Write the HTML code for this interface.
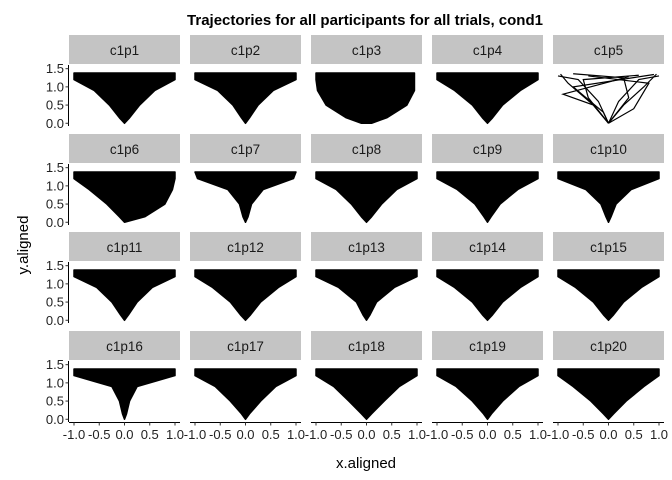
<!DOCTYPE html>
<html><head><meta charset="utf-8"><style>
html,body{margin:0;padding:0;background:#fff}
svg{display:block;font-family:"Liberation Sans",sans-serif}
</style></head><body>
<svg id="chart" width="672" height="480" viewBox="0 0 672 480">
<text x="365" y="25" text-anchor="middle" font-weight="bold" font-size="15">Trajectories for all participants for all trials, cond1</text>
<text transform="translate(28,245) rotate(-90)" text-anchor="middle" font-size="15">y.aligned</text>
<text x="366" y="468" text-anchor="middle" font-size="15">x.aligned</text>
<g id="panels"></g>
</svg>
<script>
const participants = ["c1p1","c1p2","c1p3","c1p4","c1p5","c1p6","c1p7","c1p8","c1p9","c1p10","c1p11","c1p12","c1p13","c1p14","c1p15","c1p16","c1p17","c1p18","c1p19","c1p20"];
const envelopeY = [1.38, 1.2, 0.9, 0.5, 0.15, 0];
const leftEdge = [
 [-1,-1,-0.6,-0.3,-0.1,0],[-1,-1,-0.55,-0.25,-0.08,0],[-1,-1,-0.97,-0.8,-0.4,-0.1],[-1,-1,-0.65,-0.3,-0.1,0],null,
 [-1,-1,-0.7,-0.35,-0.1,0],[-1,-0.95,-0.35,-0.12,-0.05,0],[-1,-1,-0.6,-0.3,-0.1,0],[-1,-1,-0.6,-0.25,-0.07,0],[-1,-1,-0.45,-0.15,-0.05,0],
 [-1,-1,-0.55,-0.25,-0.08,0],[-1,-1,-0.65,-0.3,-0.1,0],[-1,-1,-0.55,-0.2,-0.07,0],[-1,-1,-0.65,-0.3,-0.1,0],[-1,-1,-0.65,-0.3,-0.1,0],
 [-1,-1,-0.25,-0.1,-0.04,0],[-1,-1,-0.6,-0.3,-0.08,0],[-1,-1,-0.65,-0.35,-0.1,0],[-1,-1,-0.62,-0.3,-0.08,0],[-1,-1,-0.7,-0.35,-0.1,0]];
const rightEdge = [
 [1,1,0.6,0.3,0.1,0],[1,1,0.55,0.25,0.08,0],[0.95,0.95,0.95,0.8,0.4,0.1],[1,1,0.65,0.3,0.1,0],null,
 [1,1,0.95,0.8,0.4,0],[1,0.95,0.35,0.12,0.05,0],[1,1,0.6,0.3,0.1,0],[1,1,0.6,0.25,0.07,0],[1,1,0.45,0.15,0.05,0],
 [1,1,0.55,0.25,0.08,0],[1,1,0.65,0.3,0.1,0],[1,1,0.55,0.2,0.07,0],[1,1,0.65,0.3,0.1,0],[1,1,0.65,0.3,0.1,0],
 [1,1,0.25,0.1,0.04,0],[1,1,0.6,0.3,0.08,0],[1,1,0.65,0.35,0.1,0],[1,1,0.62,0.3,0.08,0],[1,1,0.7,0.35,0.1,0]];
const sparseTrajX = [[0,-0.3,-0.8,-0.95],[0,-0.2,-0.6,-1.0],[0,0.3,0.7,0.95],[0,0.2,0.6,1.0],[0,-0.4,-0.5,0.6],[0,0.4,0.3,-0.7],[0,-0.1,-0.7,0.9],[0,0.5,0.8,-0.4],[0,-0.3,-0.9,0.4]];
const sparseTrajY = [[0,0.5,1.1,1.35],[0,0.6,1.2,1.3],[0,0.5,1.0,1.35],[0,0.6,1.2,1.3],[0,0.7,1.2,1.32],[0,0.7,1.25,1.36],[0,0.3,1.0,1.34],[0,0.4,1.1,1.3],[0,0.5,0.8,1.28]];
const yTicks = [0, 0.5, 1.0, 1.5];
const yTickLabels = ["0.0","0.5","1.0","1.5"];
const xTicks = [-1, -0.5, 0, 0.5, 1];
const xTickLabels = ["-1.0","-0.5","0.0","0.5","1.0"];

const NS = "http://www.w3.org/2000/svg";
const g = document.getElementById("panels");
const colX = [69,190,311,432,553], pw = 111, ph = 61;
const rowStrip = [35,134,232,331];
function mk(t, attrs, parent){const e=document.createElementNS(NS,t);for(const k in attrs)e.setAttribute(k,attrs[k]);(parent||g).appendChild(e);return e;}
participants.forEach((name,i)=>{
  const c=i%5, r=Math.floor(i/5);
  const x0=colX[c], st=rowStrip[r], py=st+30;
  const sx=v=>x0+pw/2+v*50.5;
  const sy=v=>py+ph-(v+0.075)*36.4;
  const panel=mk("g",{});
  
  
  const strip=mk("rect",{x:x0,y:st,width:pw,height:29,fill:"#c4c4c4"},panel);
  
  
  const lab=mk("text",{x:x0+pw/2,y:st+20,"text-anchor":"middle","font-size":"13.5",fill:"#1a1a1a"},panel);
  lab.textContent=name;
  
  
  if(leftEdge[i]){
    let pts=[];
    rightEdge[i].forEach((v,k)=>pts.push(sx(v)+","+sy(envelopeY[k])));
    for(let k=leftEdge[i].length-1;k>=0;k--)pts.push(sx(leftEdge[i][k])+","+sy(envelopeY[k]));
    const poly=mk("polygon",{points:pts.join(" "),fill:"#000",stroke:"#000","stroke-width":"1.5","stroke-linejoin":"round"},panel);
    
    
  } else {
    sparseTrajX.forEach((xs,k)=>{
      const d=xs.map((v,j)=>(j?"L":"M")+sx(v)+","+sy(sparseTrajY[k][j])).join(" ");
      const p=mk("path",{d:d,fill:"none",stroke:"#000","stroke-width":"1.2"},panel);
      
      
    });
  }
  if(c===0){
    const ax=mk("line",{x1:x0-0.5,x2:x0-0.5,y1:py,y2:py+ph,stroke:"#000","stroke-width":"1"},panel);
    
    
    yTicks.forEach((v,k)=>{
      mk("line",{x1:x0-3.5,x2:x0-0.5,y1:sy(v),y2:sy(v),stroke:"#333"},panel);
      const t=mk("text",{x:x0-5,y:sy(v)+4.5,"text-anchor":"end","font-size":"13",fill:"#222"},panel);
      t.textContent=yTickLabels[k];
      
      
    });
  }
  if(r===3){
    const ax=mk("line",{x1:x0,x2:x0+pw,y1:py+ph+0.5,y2:py+ph+0.5,stroke:"#000","stroke-width":"1"},panel);
    
    
    xTicks.forEach((v,k)=>{
      mk("line",{x1:sx(v),x2:sx(v),y1:py+ph+0.5,y2:py+ph+3.5,stroke:"#333"},panel);
      const t=mk("text",{x:sx(v),y:py+ph+17,"text-anchor":"middle","font-size":"13",fill:"#222"},panel);
      t.textContent=xTickLabels[k];
      
      
    });
  }
});
</script>
</body></html>
